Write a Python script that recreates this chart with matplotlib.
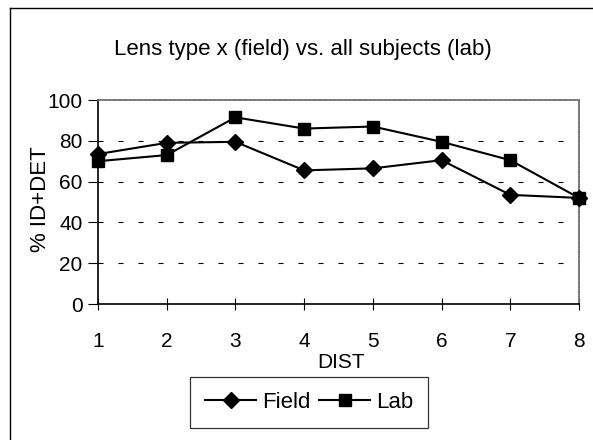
import matplotlib
matplotlib.use("Agg")
import matplotlib.pyplot as plt
from matplotlib.lines import Line2D

dist = [1, 2, 3, 4, 5, 6, 7, 8]
field = [73.5, 79, 79.5, 65.5, 66.5, 70.5, 53.5, 52]
lab = [70, 73, 91.5, 86, 87, 79.5, 70.5, 52]
yticks = [0, 20, 40, 60, 80, 100]

plt.rcParams['font.family'] = ['Liberation Sans', 'DejaVu Sans']

W, H = 593, 440
fig = plt.figure(figsize=(W / 100, H / 100), dpi=100)

# outer frame (left and top edges visible)
fig.add_artist(Line2D([10 / W, 10 / W], [0, 1 - 8 / H], color='black', lw=1.0, transform=fig.transFigure))
fig.add_artist(Line2D([10 / W, 1], [1 - 8 / H, 1 - 8 / H], color='black', lw=1.0, transform=fig.transFigure))

ax = fig.add_axes([98 / W, 1 - 304 / H, (579 - 98) / W, (304 - 100) / H])

for y in [20, 40, 60, 80]:
    ax.axhline(y, color='black', lw=0.8, linestyle=(0, (4.5, 13.5)), zorder=1)

ax.plot(dist, field, color='black', lw=1.5, marker='D', markersize=8, label='Field', zorder=3, clip_on=False)
ax.plot(dist, lab, color='black', lw=1.5, marker='s', markersize=9, label='Lab', zorder=3, clip_on=False)

ax.set_xlim(1, 8)
ax.set_ylim(0, 100)
ax.set_xticks(dist)
ax.set_yticks(yticks)
ax.tick_params(axis='x', direction='inout', length=9, width=0.8, labelsize=15, pad=16)
ax.tick_params(axis='y', direction='out', length=7, width=0.8, labelsize=15, pad=4)

for s in ['left', 'bottom']:
    ax.spines[s].set_color('black')
    ax.spines[s].set_linewidth(1.2)
for s in ['top', 'right']:
    ax.spines[s].set_color('0.45')
    ax.spines[s].set_linewidth(1.2)
    ax.spines[s].set_linestyle((0, (1, 0.5)))

fig.text(341 / W, 1 - 362.5 / H, 'DIST', fontsize=15, ha='center', va='center')
fig.text(40 / W, 1 - 199 / H, '% ID+DET', fontsize=16, rotation=90, ha='center', va='center')

fig.text(302.5 / W, 1 - 55 / H, 'Lens type x (field) vs. all subjects (lab)', fontsize=16,
         ha='center', va='baseline')

leg = fig.legend(loc='center', bbox_to_anchor=(309 / W, 1 - 402.5 / H), ncol=2, fontsize=16,
                 frameon=True, fancybox=False, edgecolor='black', handlelength=2.3,
                 columnspacing=0.4, handletextpad=0.25, borderpad=0.68, borderaxespad=0)
leg.get_frame().set_linewidth(0.9)

fig.savefig('out.png', dpi=100)
